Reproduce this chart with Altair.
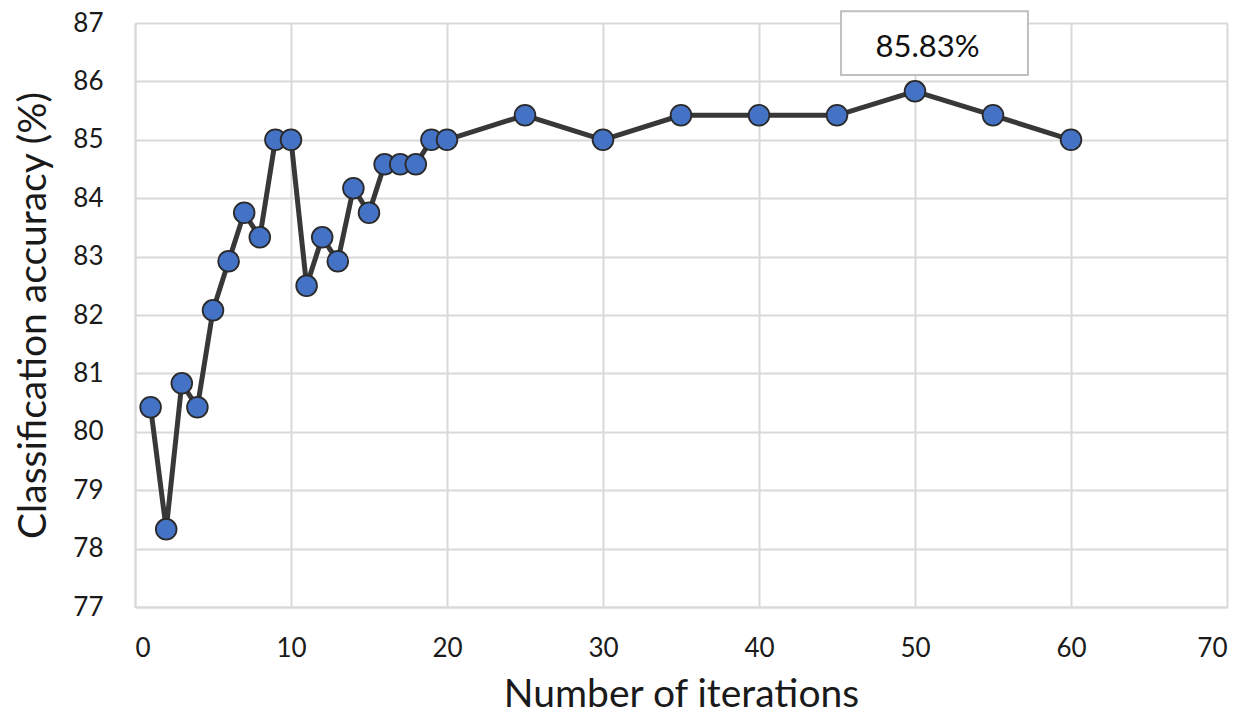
import altair as alt
import pandas as pd

iterations = [1, 2, 3, 4, 5, 6, 7, 8, 9, 10, 11, 12, 13, 14, 15, 16, 17, 18, 19, 20, 25, 30, 35, 40, 45, 50, 55, 60]
accuracy = [80.42, 78.33, 80.83, 80.42, 82.08, 82.92, 83.75, 83.33, 85.0, 85.0, 82.5, 83.33, 82.92, 84.17, 83.75,
            84.58, 84.58, 84.58, 85.0, 85.0, 85.42, 85.0, 85.42, 85.42, 85.42, 85.83, 85.42, 85.0]

label_text = ["85.83%"]
label_x = [50.8]
label_y = [86.58]
box_x = [45.26]
box_x2 = [57.24]
box_y = [87.2]
box_y2 = [86.11]

df = pd.DataFrame({"it": iterations, "acc": accuracy})
lab = pd.DataFrame({"t": label_text, "x": label_x, "y": label_y})
box = pd.DataFrame({"x": box_x, "x2": box_x2, "y": box_y, "y2": box_y2})

FONT = "Lato"

xs = alt.Scale(domain=[0, 70], nice=False, zero=False)
ys = alt.Scale(domain=[77, 87], nice=False, zero=False)

common = dict(labelFontSize=26, titleFontSize=39, tickSize=0, domainColor="#d9d9d9",
              domainWidth=2, gridColor="#d9d9d9", gridWidth=2, labelColor="#1a1a1a",
              titleColor="#1a1a1a", titleFontWeight="normal", labelFont=FONT, titleFont=FONT,
              format="d")

x_enc = alt.X("it:Q", scale=xs, title="Number of iterations",
              axis=alt.Axis(values=list(range(0, 71, 10)), labelPadding=28, titlePadding=14, **common))
y_enc = alt.Y("acc:Q", scale=ys, title="Classification accuracy (%)",
              axis=alt.Axis(values=list(range(77, 88)), labelPadding=32, titlePadding=19, **common))

line = alt.Chart(df).mark_line(color="#383838", strokeWidth=5).encode(x=x_enc, y=y_enc)
pts = alt.Chart(df).mark_point(filled=True, fill="#4472C4", stroke="#2a2a2a", strokeWidth=1.8,
                               opacity=1, size=430, shape="circle").encode(x="it:Q", y="acc:Q")

rect = alt.Chart(box).mark_rect(fill="white", stroke="#bfbfbf", strokeWidth=2, clip=False).encode(
    x=alt.X("x:Q", scale=xs), x2="x2:Q", y=alt.Y("y:Q", scale=ys), y2="y2:Q")
txt = alt.Chart(lab).mark_text(font=FONT, fontSize=31, color="#111111", clip=False).encode(
    x=alt.X("x:Q", scale=xs), y=alt.Y("y:Q", scale=ys), text="t:N")

chart = alt.layer(line, pts, rect, txt).properties(
    width=1092, height=584,
    autosize=alt.AutoSizeParams(type="none"),
    padding={"left": 127, "top": 15, "right": 15, "bottom": 107},
).configure_view(stroke=None).configure(background="white")

chart.save("out.html", embed_options={"renderer": "svg", "actions": False})
